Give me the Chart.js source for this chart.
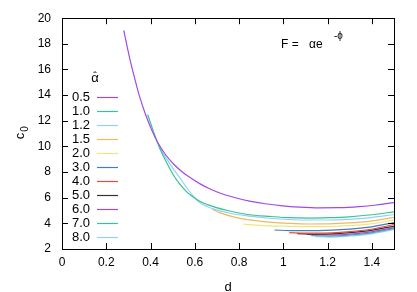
<!DOCTYPE html>
<html>
<head>
<meta charset="utf-8">
<script src="https://cdn.jsdelivr.net/npm/chart.js@4/dist/chart.umd.min.js"></script>
<style>
  html, body { margin: 0; padding: 0; background: #fff; }
  #wrap { width: 417px; height: 292px; }
</style>
</head>
<body>
<div id="wrap"><canvas id="c0Chart" width="417" height="292"></canvas></div>
<script>
// alpha-hat values for each curve
const alphas = ['0.5', '1.0', '1.2', '1.5', '2.0', '3.0', '4.0', '5.0', '6.0', '7.0', '8.0'];
const colors = ['#a349e3', '#3dbf98', '#8fd3f2', '#f2b860', '#f2e47e', '#3f7fc0',
                '#ef4a36', '#333333', '#a349e3', '#3dbf98', '#8fd3f2'];

// d values and c0 values, one pair of arrays per curve
const d05 = [0.279, 0.306, 0.329, 0.351, 0.378, 0.405, 0.432, 0.469, 0.505, 0.541, 0.577, 0.622, 0.667, 0.716, 0.779, 0.847, 0.919, 0.996, 1.072, 1.162, 1.252, 1.342, 1.42, 1.5];
const c05 = [19.06, 16.87, 15.27, 13.86, 12.47, 11.29, 10.32, 9.33, 8.61, 8.05, 7.59, 7.1, 6.7, 6.35, 6.02, 5.74, 5.53, 5.37, 5.27, 5.21, 5.22, 5.3, 5.43, 5.62];
const d10 = [0.387, 0.41, 0.432, 0.441, 0.469, 0.5, 0.527, 0.559, 0.586, 0.622, 0.658, 0.694, 0.748, 0.806, 0.869, 0.937, 1.027, 1.117, 1.207, 1.297, 1.387, 1.5];
const c10 = [12.49, 11.32, 10.27, 9.88, 8.86, 7.87, 7.17, 6.53, 6.13, 5.73, 5.46, 5.25, 5.0, 4.79, 4.63, 4.54, 4.44, 4.41, 4.44, 4.51, 4.65, 4.89];
const d12 = [0.441, 0.469, 0.5, 0.532, 0.568, 0.595, 0.622, 0.658, 0.694, 0.77, 0.847, 0.937, 1.027, 1.117, 1.207, 1.297, 1.387, 1.5];
const c12 = [9.88, 9.13, 8.33, 7.56, 6.68, 6.09, 5.63, 5.3, 5.07, 4.75, 4.56, 4.4, 4.3, 4.26, 4.26, 4.31, 4.43, 4.69];
const d15 = [0.68, 0.712, 0.779, 0.847, 0.937, 1.027, 1.117, 1.207, 1.297, 1.387, 1.5];
const c15 = [5.09, 4.84, 4.49, 4.27, 4.1, 4.0, 3.95, 3.96, 4.03, 4.16, 4.46];
const d20 = [0.82, 0.847, 0.937, 1.027, 1.117, 1.207, 1.297, 1.387, 1.5];
const c20 = [3.94, 3.9, 3.81, 3.77, 3.74, 3.75, 3.82, 3.94, 4.26];
const d30 = [0.96, 1.03, 1.16, 1.30, 1.39, 1.50];
const c30 = [3.48, 3.44, 3.44, 3.55, 3.71, 4.06];
const d40 = [1.027, 1.10, 1.16, 1.30, 1.39, 1.50];
const c40 = [3.27, 3.24, 3.24, 3.36, 3.52, 3.91];
const d50 = [1.063, 1.16, 1.30, 1.39, 1.50];
const c50 = [3.2, 3.16, 3.28, 3.44, 3.79];
const d60 = [1.108, 1.21, 1.30, 1.39, 1.50];
const c60 = [3.13, 3.09, 3.16, 3.32, 3.67];
const d70 = [1.126, 1.21, 1.30, 1.39, 1.50];
const c70 = [3.05, 3.01, 3.09, 3.24, 3.59];
const d80 = [1.144, 1.21, 1.30, 1.39, 1.50];
const c80 = [2.97, 2.93, 3.01, 3.16, 3.52];

const dList = [d05, d10, d12, d15, d20, d30, d40, d50, d60, d70, d80];
const cList = [c05, c10, c12, c15, c20, c30, c40, c50, c60, c70, c80];

// axis ticks
const xTicks = [0, 0.2, 0.4, 0.6, 0.8, 1.0, 1.2, 1.4];
const yTicks = [2, 4, 6, 8, 10, 12, 14, 16, 18, 20];

const FONT = '"Liberation Sans", Arial, sans-serif';

const datasets = alphas.map((a, i) => ({
  label: a,
  data: dList[i].map((d, k) => ({ x: d, y: cList[i][k] })),
  borderColor: colors[i],
  backgroundColor: colors[i],
  borderWidth: 1.2,
  pointRadius: 0,
  showLine: true,
  cubicInterpolationMode: 'monotone',
  fill: false,
}));

// frame, inward ticks, legend, axis titles and formula
const gnuplotLook = {
  id: 'gnuplotLook',
  afterDraw(chart) {
    const ctx = chart.ctx;
    const a = chart.chartArea;
    const xs = chart.scales.x, ys = chart.scales.y;
    ctx.save();
    ctx.strokeStyle = '#000';
    ctx.lineWidth = 1;
    ctx.strokeRect(Math.round(a.left) + 0.5, Math.round(a.top) + 0.5,
      Math.round(a.right - a.left), Math.round(a.bottom - a.top));
    ctx.beginPath();
    xTicks.forEach(v => {
      const px = Math.round(xs.getPixelForValue(v)) + 0.5;
      ctx.moveTo(px, a.bottom); ctx.lineTo(px, a.bottom - 6);
      ctx.moveTo(px, a.top); ctx.lineTo(px, a.top + 6);
    });
    yTicks.forEach(v => {
      const py = Math.round(ys.getPixelForValue(v)) + 0.5;
      ctx.moveTo(a.left, py); ctx.lineTo(a.left + 6, py);
      ctx.moveTo(a.right, py); ctx.lineTo(a.right - 6, py);
    });
    ctx.stroke();

    // legend title: alpha with a hat
    ctx.fillStyle = '#000';
    ctx.font = '13px ' + FONT;
    ctx.textAlign = 'center';
    ctx.textBaseline = 'alphabetic';
    ctx.fillText('\u03b1', 95, 82);
    ctx.font = '11px ' + FONT;
    ctx.fillText('\u02c6', 95, 80);

    ctx.font = '13px ' + FONT;
    ctx.textAlign = 'right';
    ctx.textBaseline = 'middle';
    chart.data.datasets.forEach((ds, i) => {
      const y = 97 + i * 14;
      ctx.fillStyle = '#000';
      ctx.fillText(ds.label, 90, y);
      ctx.strokeStyle = ds.borderColor;
      ctx.lineWidth = 1.2;
      ctx.beginPath();
      ctx.moveTo(97, y + 0.5); ctx.lineTo(118, y + 0.5);
      ctx.stroke();
    });

    // formula
    ctx.fillStyle = '#000';
    ctx.textAlign = 'left';
    ctx.textBaseline = 'alphabetic';
    ctx.font = '12px ' + FONT;
    ctx.fillText('F =', 281, 48);
    ctx.fillText('\u03b1e', 309, 48);
    ctx.font = '10px ' + FONT;
    ctx.fillText('-\u03d5', 334, 39);

    // axis titles
    ctx.font = '13px ' + FONT;
    ctx.textAlign = 'center';
    ctx.fillText('d', (a.left + a.right) / 2, 291);
    ctx.translate(24, 134);
    ctx.rotate(-Math.PI / 2);
    ctx.fillText('c', -2, 0);
    ctx.font = '10px ' + FONT;
    ctx.fillText('0', 5, 4);
    ctx.restore();
  }
};

const ctx = document.getElementById('c0Chart').getContext('2d');
new Chart(ctx, {
  type: 'scatter',
  data: { datasets: datasets },
  options: {
    responsive: false,
    animation: false,
    layout: { padding: { top: 17, right: 23, left: 0, bottom: 0 } },
    plugins: { legend: { display: false }, tooltip: { enabled: false } },
    scales: {
      x: {
        type: 'linear', min: 0, max: 1.5,
        afterBuildTicks: s => { s.ticks = xTicks.map(v => ({ value: v })); },
        afterFit: s => { s.height = 43; },
        grid: { display: false, drawTicks: false },
        border: { display: false },
        ticks: {
          color: '#000', padding: 6, autoSkip: false, maxRotation: 0,
          font: { family: FONT, size: 12 },
          callback: v => String(parseFloat(v.toFixed(1))),
        },
      },
      y: {
        type: 'linear', min: 2, max: 20,
        afterBuildTicks: s => { s.ticks = yTicks.map(v => ({ value: v })); },
        afterFit: s => { s.width = 62; },
        grid: { display: false, drawTicks: false },
        border: { display: false },
        ticks: {
          color: '#000', padding: 11, autoSkip: false,
          font: { family: FONT, size: 12 },
        },
      },
    },
  },
  plugins: [gnuplotLook],
});
</script>
</body>
</html>
